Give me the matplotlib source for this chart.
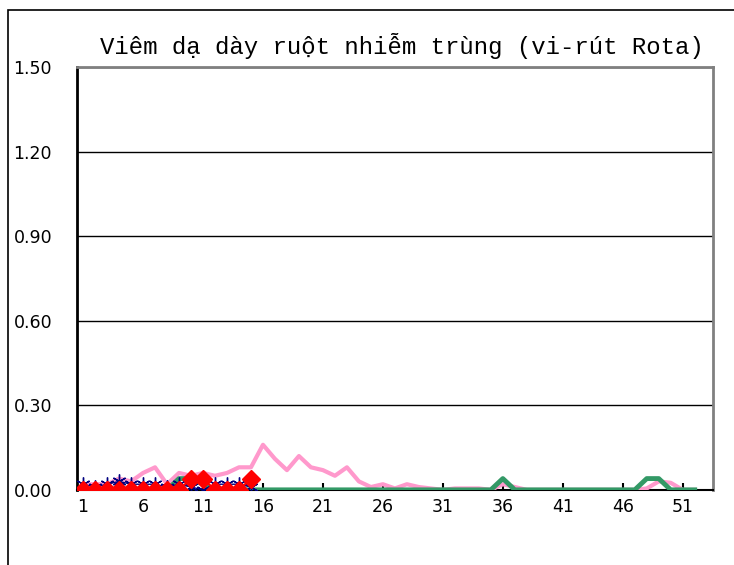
import matplotlib.pyplot as plt
from matplotlib.patches import Rectangle

# tuần 1..52
weeks = list(range(1, 53))

# giá trị
pink = [0.02, 0.02, 0.02, 0.04, 0.03, 0.06, 0.08, 0.02, 0.06, 0.05,
        0.06, 0.05, 0.06, 0.08, 0.08, 0.16, 0.11, 0.07, 0.12, 0.08,
        0.07, 0.05, 0.08, 0.03, 0.01, 0.02, 0.005, 0.02, 0.01, 0.005,
        0.0, 0.005, 0.005, 0.005, 0.0, 0.02, 0.01, 0.0, 0.0, 0.0,
        0.0, 0.0, 0.0, 0.0, 0.0, 0.0, 0.0, 0.005, 0.03, 0.025,
        0.0, 0.0]
green = [0.0, 0.0, 0.0, 0.0, 0.0, 0.0, 0.0, 0.0, 0.04, 0.04,
         0.02, 0.0, 0.0, 0.0, 0.0, 0.0, 0.0, 0.0, 0.0, 0.0,
         0.0, 0.0, 0.0, 0.0, 0.0, 0.0, 0.0, 0.0, 0.0, 0.0,
         0.0, 0.0, 0.0, 0.0, 0.0, 0.04, 0.0, 0.0, 0.0, 0.0,
         0.0, 0.0, 0.0, 0.0, 0.0, 0.0, 0.0, 0.04, 0.04, 0.0,
         0.0, 0.0]
blue = [0.02, 0.01, 0.02, 0.03, 0.02, 0.02, 0.02, 0.01, 0.02, 0.01,
        0.0, 0.02, 0.02, 0.02, 0.01]
red = [0.0, 0.0, 0.0, 0.0, 0.0, 0.0, 0.0, 0.0, 0.0, 0.04,
       0.04, 0.0, 0.0, 0.0, 0.04]

yticks = [0.0, 0.3, 0.6, 0.9, 1.2, 1.5]
xticks = list(range(1, 53, 5))

fig = plt.figure(figsize=(7.34, 5.65), dpi=100)
ax = fig.add_axes([0.105, 0.133, 0.866, 0.748])

# khung ngoài
fig.patches.append(Rectangle((8 / 734, -0.1), 1.2, 1.1 - 10 / 565,
                             transform=fig.transFigure, fill=False,
                             edgecolor='black', linewidth=1.2))

ax.plot(weeks, pink, color='#FF99CC', linewidth=3, zorder=3)
ax.plot(weeks, green, color='#339966', linewidth=3.5, zorder=4)
ax.plot(weeks[:15], blue, color='#000080', linewidth=1, marker=(6, 2, 0),
        markersize=10, markeredgewidth=1, zorder=5)
ax.plot(weeks[:15], red, color='#FF0000', linewidth=1.5, marker='D',
        markersize=9, zorder=6)

ax.set_xlim(0.5, 53.5)
ax.set_ylim(0, 1.5)
ax.set_yticks(yticks)
ax.set_yticklabels(['%.2f' % v for v in yticks])
ax.set_xticks(xticks)
ax.grid(axis='y', color='black', linewidth=1)
ax.set_axisbelow(True)

ax.tick_params(axis='y', length=0, pad=18, labelsize=12.5)
ax.tick_params(axis='x', direction='in', length=5, width=1.5, pad=6, labelsize=12.5)

ax.spines['left'].set_color('black')
ax.spines['left'].set_linewidth(2)
ax.spines['bottom'].set_color('black')
ax.spines['bottom'].set_linewidth(1.5)
ax.spines['top'].set_color('#808080')
ax.spines['top'].set_linewidth(2)
ax.spines['right'].set_color('#808080')
ax.spines['right'].set_linewidth(2)

fig.text(0.548, 0.918, 'Viêm dạ dày ruột nhiễm trùng (vi-rút Rota)',
         ha='center', va='center', fontsize=17.3,
         family=['Liberation Mono', 'DejaVu Sans Mono', 'DejaVu Sans'])

fig.savefig('out.png', dpi=100)
